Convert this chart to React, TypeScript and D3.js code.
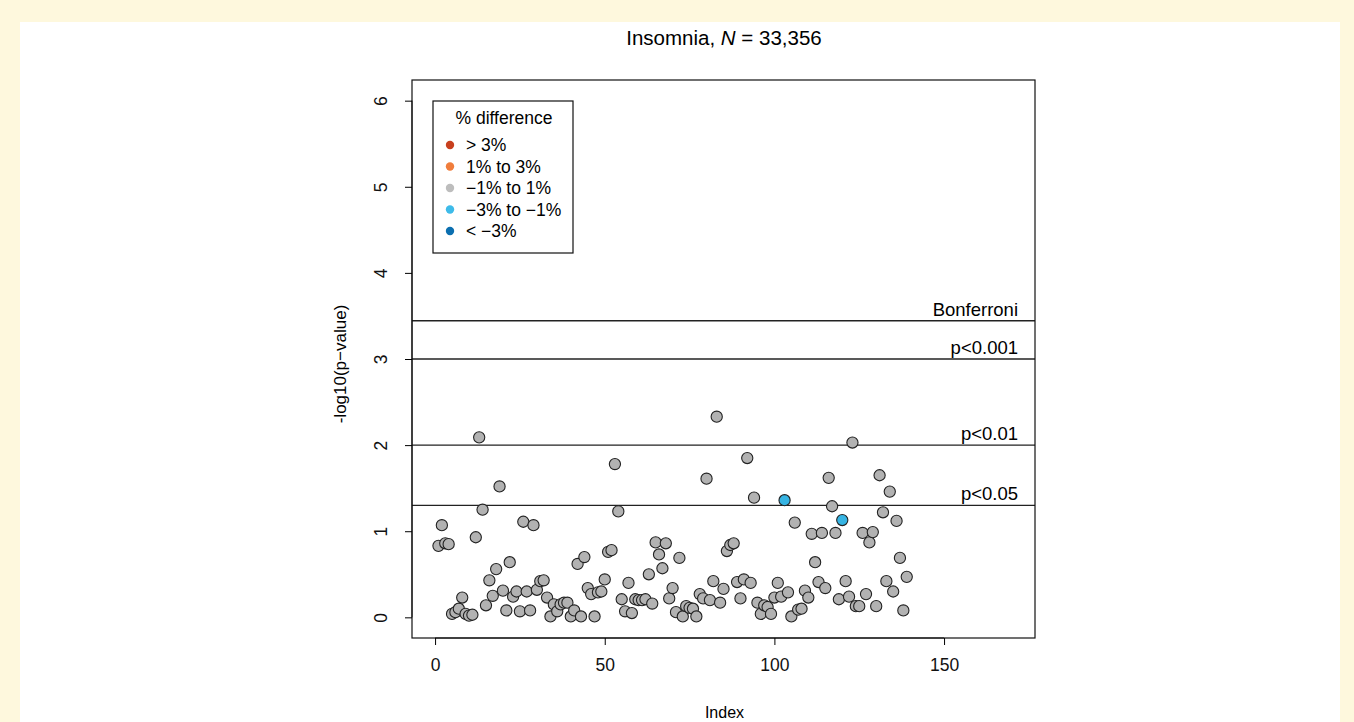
import React, { useEffect, useRef } from 'react';
import * as d3 from 'd3';

// -log10(p) for each test, index 1..139
const pValues = [
  0.83, 1.07, 0.86, 0.85, 0.04, 0.06, 0.10, 0.23, 0.04, 0.02,
  0.03, 0.93, 2.09, 1.25, 0.14, 0.43, 0.25, 0.56, 1.52, 0.31,
  0.08, 0.64, 0.24, 0.30, 0.07, 1.11, 0.30, 0.08, 1.07, 0.32,
  0.42, 0.43, 0.23, 0.01, 0.15, 0.07, 0.15, 0.17, 0.17, 0.01,
  0.08, 0.62, 0.01, 0.70, 0.34, 0.27, 0.01, 0.29, 0.30, 0.44,
  0.76, 0.78, 1.78, 1.23, 0.21, 0.07, 0.40, 0.05, 0.21, 0.20,
  0.20, 0.21, 0.50, 0.16, 0.87, 0.73, 0.57, 0.86, 0.22, 0.34,
  0.06, 0.69, 0.01, 0.13, 0.11, 0.10, 0.01, 0.27, 0.22, 1.61,
  0.20, 0.42, 2.33, 0.17, 0.33, 0.77, 0.84, 0.86, 0.41, 0.22,
  0.44, 1.85, 0.40, 1.39, 0.17, 0.04, 0.14, 0.12, 0.04, 0.23,
  0.40, 0.24, 1.36, 0.29, 0.01, 1.10, 0.09, 0.10, 0.31, 0.23,
  0.97, 0.64, 0.41, 0.98, 0.34, 1.62, 1.29, 0.98, 0.21, 1.13,
  0.42, 0.24, 2.03, 0.13, 0.13, 0.98, 0.27, 0.87, 0.99, 0.13,
  1.65, 1.22, 0.42, 1.46, 0.30, 1.12, 0.69, 0.08, 0.47,
];

// indices (1-based) with a -3% to -1% difference; all others are -1% to 1%
const lightBlueIdx = [103, 120];

const legendLabels = ['> 3%', '1% to 3%', '\u22121% to 1%', '\u22123% to \u22121%', '< \u22123%'];
const legendColors = ['#c8401e', '#f07d3c', '#bdbdbd', '#3ebbe9', '#0b6fb0'];

const thresholds = [
  { label: 'Bonferroni', value: -Math.log10(0.05 / 139) },
  { label: 'p<0.001', value: 3 },
  { label: 'p<0.01', value: 2 },
  { label: 'p<0.05', value: -Math.log10(0.05) },
];

const xTicks = [0, 50, 100, 150];
const yTicks = [0, 1, 2, 3, 4, 5, 6];

const W = 1354, H = 722;
const box = { left: 412, right: 1035, top: 80, bottom: 638 };
const font = '"Liberation Sans", Arial, Helvetica, sans-serif';

const App = () => {
  const ref = useRef<SVGSVGElement>(null);

  useEffect(() => {
    const svg = d3.select(ref.current);
    svg.selectAll('*').remove();

    // R style: limits padded by 4%
    const x = d3.scaleLinear().domain([0 - 6.8, 170 + 6.8]).range([box.left, box.right]);
    const y = d3.scaleLinear().domain([0 - 0.24, 6 + 0.24]).range([box.bottom, box.top]);

    // page background
    svg.append('rect').attr('width', W).attr('height', H).attr('fill', '#fef8dd');
    svg.append('rect').attr('x', 20).attr('y', 22).attr('width', 1320).attr('height', H - 22).attr('fill', '#fff');

    svg.append('text')
      .attr('x', 724).attr('y', 45)
      .attr('text-anchor', 'middle')
      .attr('font-family', font).attr('font-size', 20.5)
      .call(t => {
        t.append('tspan').text('Insomnia, ');
        t.append('tspan').attr('font-style', 'italic').text('N');
        t.append('tspan').text(' = 33,356');
      });

    // threshold lines
    const th = svg.append('g');
    thresholds.forEach(d => {
      th.append('line')
        .attr('x1', box.left).attr('x2', box.right)
        .attr('y1', y(d.value)).attr('y2', y(d.value))
        .attr('stroke', '#222').attr('stroke-width', 1.3);
      th.append('text')
        .attr('x', 1018).attr('y', y(d.value) - 5)
        .attr('text-anchor', 'end')
        .attr('font-family', font).attr('font-size', 18.5)
        .text(d.label);
    });

    // points
    svg.append('g').selectAll('circle')
      .data(pValues)
      .enter().append('circle')
        .attr('cx', (d, i) => x(i + 1))
        .attr('cy', d => y(d))
        .attr('r', 5.6)
        .attr('fill', (d, i) => lightBlueIdx.includes(i + 1) ? '#36b4e3' : '#b2b2b2')
        .attr('stroke', '#222')
        .attr('stroke-width', 1.1);

    // box
    svg.append('rect')
      .attr('x', box.left).attr('y', box.top)
      .attr('width', box.right - box.left).attr('height', box.bottom - box.top)
      .attr('fill', 'none').attr('stroke', '#111').attr('stroke-width', 1.2);

    // x axis
    const gx = svg.append('g').attr('transform', `translate(0,${box.bottom})`)
      .call(d3.axisBottom(x).tickValues(xTicks).tickSize(7).tickPadding(14).tickFormat(d3.format('d')));
    gx.select('.domain').attr('d', `M${x(0)},0H${x(150)}`).attr('stroke', '#111');
    gx.selectAll('text').attr('font-family', font).attr('font-size', 17.5).attr('fill', '#111');

    // y axis
    const gy = svg.append('g').attr('transform', `translate(${box.left},0)`)
      .call(d3.axisLeft(y).tickValues(yTicks).tickSize(7).tickFormat(d3.format('d')));
    gy.select('.domain').attr('d', `M0,${y(0)}V${y(6)}`).attr('stroke', '#111');
    gy.selectAll('.tick text')
      .attr('x', 0).attr('dy', null)
      .attr('transform', 'translate(-31,0) rotate(-90)')
      .attr('text-anchor', 'middle').attr('dominant-baseline', 'central')
      .attr('font-family', font).attr('font-size', 17.5).attr('fill', '#111');

    svg.append('text')
      .attr('x', (box.left + box.right) / 2 + 1).attr('y', 718)
      .attr('text-anchor', 'middle')
      .attr('font-family', font).attr('font-size', 16)
      .text('Index');

    svg.append('text')
      .attr('transform', `translate(346,${(box.top + box.bottom) / 2 + 5}) rotate(-90)`)
      .attr('text-anchor', 'middle')
      .attr('font-family', font).attr('font-size', 17)
      .text('-log10(p\u2212value)');

    // legend
    const lg = svg.append('g').attr('transform', 'translate(433,101)');
    lg.append('rect').attr('width', 140).attr('height', 152)
      .attr('fill', '#fff').attr('stroke', '#111').attr('stroke-width', 1.2);
    lg.append('text').attr('x', 71).attr('y', 23)
      .attr('text-anchor', 'middle')
      .attr('font-family', font).attr('font-size', 17.5)
      .text('% difference');
    legendLabels.forEach((lab, i) => {
      const cy = 44 + i * 21.5;
      lg.append('circle').attr('cx', 17).attr('cy', cy).attr('r', 4.2).attr('fill', legendColors[i]);
      lg.append('text').attr('x', 33).attr('y', cy + 6)
        .attr('font-family', font).attr('font-size', 17.5)
        .text(lab);
    });
  }, []);

  return (
    <div style={{ position: 'fixed', left: 0, top: 0, width: W, height: H }}>
      <svg ref={ref} width={W} height={H} />
    </div>
  );
};

export default App;
